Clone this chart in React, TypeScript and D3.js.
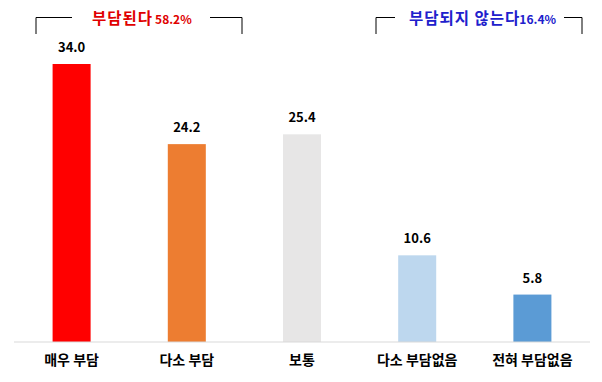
import React from "react";
import * as d3 from "d3";

const categories = ["매우 부담", "다소 부담", "보통", "다소 부담없음", "전혀 부담없음"];
const values = [34.0, 24.2, 25.4, 10.6, 5.8];
const colors = ["#FF0000", "#ED7D31", "#E7E6E6", "#BDD7EE", "#5B9BD5"];
const groupLabels = ["부담된다", "부담되지 않는다"];
const groupPercents = ["58.2%", "16.4%"];

const W = 602;
const H = 382;
const FONT = "'Noto Sans CJK KR', 'Noto Sans', sans-serif";

export default function App() {
  const x = d3.scaleBand<string>().domain(categories).range([14, 590]).paddingInner(0.67).paddingOuter(0.335);
  const y = d3.scaleLinear().domain([0, 34]).range([342, 64]);

  const brackets = [
    { x1: 36, x2: 242, g1: 72, g2: 210, tx: 92, color: "#E00000", label: groupLabels[0], pct: groupPercents[0] },
    { x1: 376, x2: 582, g1: 395, g2: 564, tx: 409, color: "#2020CC", label: groupLabels[1], pct: groupPercents[1] },
  ];

  return (
    <div style={{ margin: -8 }}>
      <svg width={W} height={H} style={{ display: "block", background: "#fff" }} fontFamily={FONT}>
        {brackets.map((b, i) => (
          <g key={i}>
            <path d={`M${b.x1},34V17.5H${b.g1}`} fill="none" stroke="#000" strokeWidth={1} />
            <path d={`M${b.g2},17.5H${b.x2}V34`} fill="none" stroke="#000" strokeWidth={1} />
            <text x={b.tx} y={24} fill={b.color} fontSize={15.5} fontWeight={700} letterSpacing={1}>
              {b.label}
              <tspan dx={i === 0 ? 2 : -1} fontSize={12} letterSpacing={0}>{b.pct}</tspan>
            </text>
          </g>
        ))}
        {categories.map((c, i) => (
          <g key={c}>
            <rect x={x(c)} y={y(values[i])} width={x.bandwidth()} height={342 - y(values[i])} fill={colors[i]} />
            <text x={x(c)! + x.bandwidth() / 2} y={y(values[i]) - 12} textAnchor="middle" fontSize={13} fontWeight={700} fill="#000">
              {values[i].toFixed(1)}
            </text>
            <text x={x(c)! + x.bandwidth() / 2} y={365} textAnchor="middle" fontSize={14} fontWeight={700} fill="#000">
              {c}
            </text>
          </g>
        ))}
        <line x1={14} x2={590} y1={342} y2={342} stroke="#D9D9D9" strokeWidth={1} />
      </svg>
    </div>
  );
}
